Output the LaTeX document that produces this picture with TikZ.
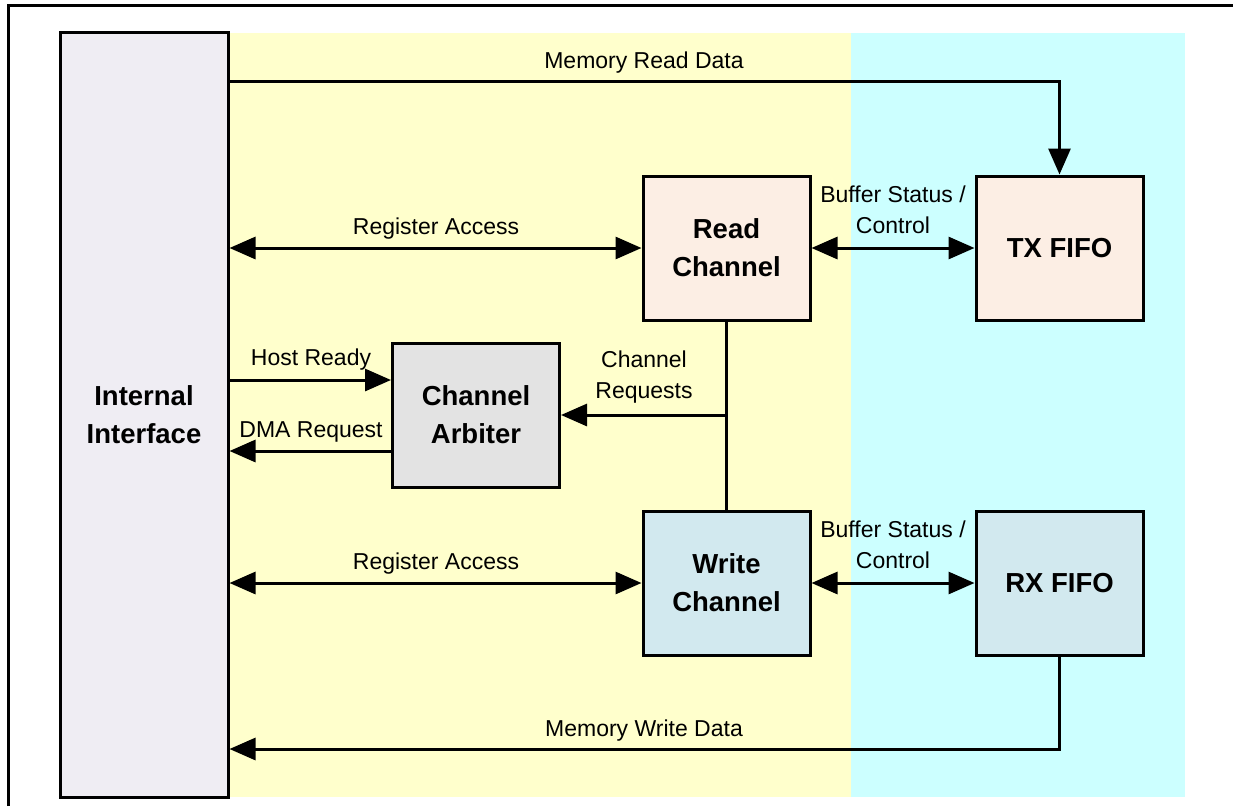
\documentclass[tikz,border=0pt]{standalone}
\usepackage{fontspec}
\setmainfont{Liberation Sans}
\usetikzlibrary{arrows.meta,calc}
\definecolor{ylw}{HTML}{FFFFCC}
\definecolor{cyn}{HTML}{CCFFFF}
\definecolor{iifill}{HTML}{EFEDF3}
\definecolor{peach}{HTML}{FCEEE4}
\definecolor{gry}{HTML}{E3E3E3}
\definecolor{lblue}{HTML}{D2E9EF}
\begin{document}
\begin{tikzpicture}[x=1pt,y=-1pt,
  blk/.style={draw=black, line width=3pt, rectangle, inner sep=0pt,
    minimum width=167pt, minimum height=144pt, align=center,
    font=\fontsize{27.5}{38}\selectfont\bfseries},
  lbl/.style={font=\fontsize{23}{31}\selectfont, align=center, inner sep=0pt},
  arr/.style={line width=3pt, -{Triangle[length=26pt,width=22pt]}},
  darr/.style={line width=3pt, {Triangle[length=26pt,width=22pt]}-{Triangle[length=26pt,width=22pt]}},
  ln/.style={line width=3pt}]
\useasboundingbox (0,0) rectangle (1233,806);
% frame
\draw[line width=3pt] (8.5,806) -- (8.5,5.5) -- (1233,5.5);
% background regions
\fill[ylw] (228,33) rectangle (851,797);
\fill[cyn] (851,33) rectangle (1185,797);
% blocks
\node[blk, fill=iifill, minimum width=168pt, minimum height=765pt] (ii) at (144,415) {Internal\\Interface};
\node[blk, fill=peach] (rc) at (726.5,248) {Read\\Channel};
\node[blk, fill=peach] (tx) at (1059.5,248) {TX FIFO};
\node[blk, fill=gry] (arb) at (476,415) {Channel\\Arbiter};
\node[blk, fill=lblue] (wc) at (726.5,583) {Write\\Channel};
\node[blk, fill=lblue] (rx) at (1059.5,583) {RX FIFO};
% connectors
\draw[arr] (ii.east |- 0,81) -| (tx.north);
\draw[darr] (ii.east |- rc.west) -- (rc.west);
\draw[darr] (rc.east) -- (tx.west);
\draw[arr] (ii.east |- 0,380) -- (arb.west |- 0,380);
\draw[arr] (arb.west |- 0,451) -- (ii.east |- 0,451);
\draw[ln] (rc.south) -- (wc.north);
\draw[arr] (rc.south |- arb.east) -- (arb.east);
\draw[darr] (ii.east |- wc.west) -- (wc.west);
\draw[darr] (wc.east) -- (rx.west);
\draw[arr] (rx.south) |- (ii.east |- 0,749);
% labels
\node[lbl, anchor=base] (lmrd) at (644,68) {Memory Read Data};
\node[lbl, anchor=base] (lra1) at (436,234) {Register Access};
\node[lbl] (lbs1) at (893,210) {Buffer Status /\\Control};
\node[lbl, anchor=base] (lhr) at (311,365) {Host Ready};
\node[lbl, anchor=base] (ldma) at (311,437) {DMA Request};
\node[lbl] (lcr) at (644,377) {Channel\\Requests};
\node[lbl, anchor=base] (lra2) at (436,569) {Register Access};
\node[lbl] (lbs2) at (893,545) {Buffer Status /\\Control};
\node[lbl, anchor=base] (lmwd) at (644,736) {Memory Write Data};
\end{tikzpicture}
\end{document}
